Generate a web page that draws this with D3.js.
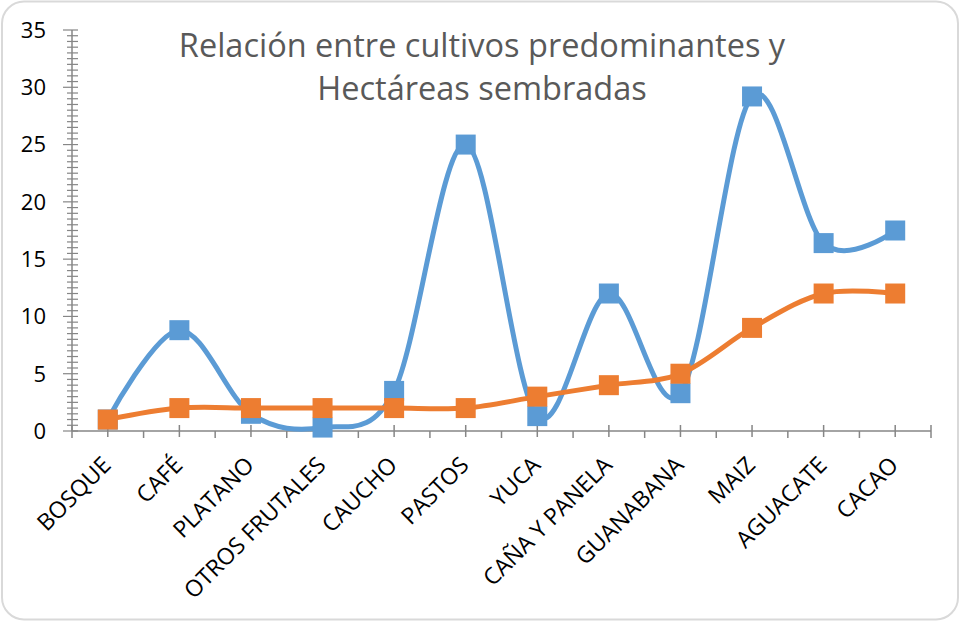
<!DOCTYPE html>
<html>
<head>
<meta charset="utf-8">
<script src="https://cdn.jsdelivr.net/npm/d3@7"></script>
<style>
  body { margin: 0; background: #fff; }
  text { font-family: "Open Sans", sans-serif; }
</style>
</head>
<body>
<svg id="chart" width="960" height="622"></svg>
<script>
const categories = ["BOSQUE", "CAFÉ", "PLATANO", "OTROS FRUTALES", "CAUCHO", "PASTOS",
  "YUCA", "CAÑA Y PANELA", "GUANABANA", "MAIZ", "AGUACATE", "CACAO"];
const blueValues = [1, 8.8, 1.5, 0.3, 3.5, 25, 1.3, 12, 3.3, 29.2, 16.4, 17.5];
const orangeValues = [1, 2, 2, 2, 2, 2, 3, 4, 5, 9, 12, 12];
const yTicks = [0, 5, 10, 15, 20, 25, 30, 35];
const titleLines = ["Relación entre cultivos predominantes y", "Hectáreas sembradas"];

const blueColor = "#5b9bd5";
const orangeColor = "#ed7d31";
const axisColor = "#868686";

const svg = d3.select("#chart");

// outer rounded frame
svg.append("rect")
  .attr("x", 2).attr("y", 1.5)
  .attr("width", 956).attr("height", 618)
  .attr("rx", 22)
  .attr("fill", "#fff")
  .attr("stroke", "#d9d9d9")
  .attr("stroke-width", 2);

const plotLeft = 72, plotRight = 931, plotTop = 30, plotBottom = 431;

const x = d3.scalePoint().domain(categories).range([plotLeft, plotRight]).padding(0.5);
const y = d3.scaleLinear().domain([0, 35]).range([plotBottom, plotTop]);

// y axis
const yAxis = svg.append("g");
yAxis.append("line")
  .attr("x1", plotLeft).attr("x2", plotLeft)
  .attr("y1", y(35)).attr("y2", y(0))
  .attr("stroke", axisColor).attr("stroke-width", 1.5);

const minorTicks = d3.range(0, 35.01, 0.5);
yAxis.selectAll(".minor")
  .data(minorTicks)
  .join("line")
  .attr("x1", d => (d % 5 === 0 ? plotLeft - 9 : plotLeft - 5))
  .attr("x2", plotLeft + 6)
  .attr("y1", d => y(d)).attr("y2", d => y(d))
  .attr("stroke", axisColor).attr("stroke-width", 1.2);

yAxis.selectAll(".lbl")
  .data(yTicks)
  .join("text")
  .attr("x", 46)
  .attr("y", d => y(d))
  .attr("dy", "0.36em")
  .attr("text-anchor", "end")
  .attr("font-size", 22)
  .attr("fill", "#000")
  .text(d => d);

// x axis
const xAxis = svg.append("g");
xAxis.append("line")
  .attr("x1", plotLeft).attr("x2", plotRight)
  .attr("y1", plotBottom).attr("y2", plotBottom)
  .attr("stroke", axisColor).attr("stroke-width", 1.5);

const step = x.step();
const boundaries = d3.range(0, categories.length + 1).map(i => plotLeft + i * step);
xAxis.selectAll(".bnd")
  .data(boundaries)
  .join("line")
  .attr("x1", d => d).attr("x2", d => d)
  .attr("y1", (d, i) => (i === 0 || i === categories.length ? plotBottom - 6 : plotBottom))
  .attr("y2", plotBottom + 7)
  .attr("stroke", axisColor).attr("stroke-width", 1.5);

xAxis.selectAll(".ctr")
  .data(categories)
  .join("line")
  .attr("x1", d => x(d)).attr("x2", d => x(d))
  .attr("y1", plotBottom - 6).attr("y2", plotBottom + 6)
  .attr("stroke", axisColor).attr("stroke-width", 1.5);

xAxis.selectAll(".xl")
  .data(categories)
  .join("text")
  .attr("transform", d => `translate(${x(d) - 7},${455}) rotate(-45)`)
  .attr("dy", "0.71em")
  .attr("text-anchor", "end")
  .attr("font-size", 23)
  .attr("fill", "#000")
  .text(d => d);

// title
svg.append("g")
  .selectAll("text")
  .data(titleLines)
  .join("text")
  .attr("x", 482)
  .attr("y", (d, i) => 57 + i * 43)
  .attr("text-anchor", "middle")
  .attr("font-size", 32.5)
  .attr("fill", "#595959")
  .text(d => d);

// series
const line = d3.line()
  .x((d, i) => x(categories[i]))
  .y(d => y(d))
  .curve(d3.curveCardinal.tension(0));

function drawSeries(values, color) {
  const g = svg.append("g");
  g.append("path")
    .datum(values)
    .attr("d", line)
    .attr("fill", "none")
    .attr("stroke", color)
    .attr("stroke-width", 5)
    .attr("stroke-linejoin", "round");
  g.selectAll("rect")
    .data(values)
    .join("rect")
    .attr("x", (d, i) => x(categories[i]) - 10)
    .attr("y", d => y(d) - 10)
    .attr("width", 20)
    .attr("height", 20)
    .attr("fill", color);
}

drawSeries(blueValues, blueColor);
drawSeries(orangeValues, orangeColor);
</script>
</body>
</html>
